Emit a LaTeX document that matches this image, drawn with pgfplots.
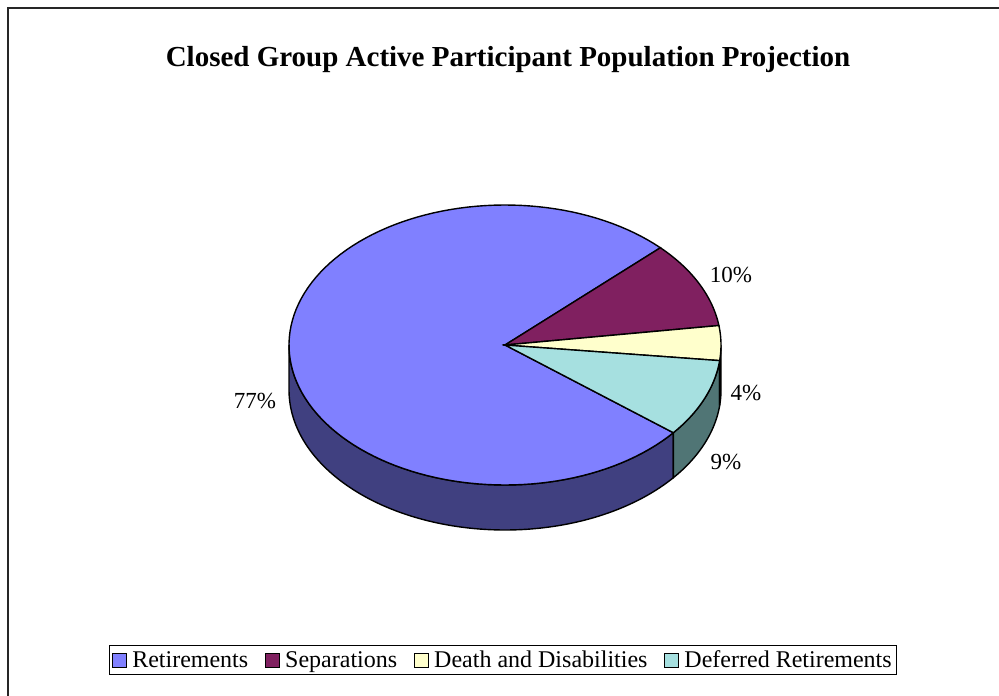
\documentclass[border=0pt]{standalone}
\usepackage{pgfplots}
\pgfplotsset{compat=1.18}
\usepackage{pgfplotstable}
\usepackage{fontspec}
\setmainfont{Liberation Serif}

\definecolor{retTop}{HTML}{8080FF}
\definecolor{retSide}{HTML}{404080}
\definecolor{sepTop}{HTML}{802060}
\definecolor{deaTop}{HTML}{FFFFCC}
\definecolor{deaSide}{HTML}{80806A}
\definecolor{defTop}{HTML}{A6E0E0}
\definecolor{defSide}{HTML}{507575}

\pgfplotstableread{
slice value
Retirements 77
Separations 10
Death 4
Deferred 9
}\piedata

% centre, radii, depth of the pie (pixel units)
\def\cx{505}\def\cy{345}\def\ra{216}\def\rb{140}\def\dep{45}

\newcommand\wall[3]{%
\addplot[forget plot, fill=#3, draw=black, line width=1.4pt, domain=0:3, samples=301, variable=\s]
 ({\cx+\ra*cos(#1+(#2-#1)*min(\s,1)-(#2-#1)*max(\s-2,0))},
  {\cy-\rb*sin(#1+(#2-#1)*min(\s,1)-(#2-#1)*max(\s-2,0))+\dep*min(max(\s-1,0),1)}) -- cycle;}

\newcommand\slice[3]{%
\addplot[fill=#3, draw=black, line width=1.4pt, domain=#1:#2, samples=120, variable=\t]
 ({\cx+\ra*cos(\t)},{\cy-\rb*sin(\t)}) -- (axis cs:\cx,\cy) -- cycle;}

\begin{document}
\begin{tikzpicture}
\pgfplotstablegetelem{0}{value}\of\piedata \edef\vA{\pgfplotsretval}
\pgfplotstablegetelem{1}{value}\of\piedata \edef\vB{\pgfplotsretval}
\pgfplotstablegetelem{2}{value}\of\piedata \edef\vC{\pgfplotsretval}
\pgfplotstablegetelem{3}{value}\of\piedata \edef\vD{\pgfplotsretval}
\pgfmathsetmacro\tA{-38.8}
\pgfmathsetmacro\tB{\tA-3.6*\vA}
\pgfmathsetmacro\tC{\tB-3.6*\vB}
\pgfmathsetmacro\tD{\tC-3.6*\vC}
\pgfmathsetmacro\tE{\tD-3.6*\vD}
\pgfmathsetmacro\wDa{\tD+360}
\pgfmathsetmacro\wEa{\tE+360}
\begin{axis}[
  scale only axis, width=999pt, height=696pt,
  xmin=0, xmax=999, ymin=0, ymax=696, y dir=reverse,
  hide axis, clip=false,
  legend columns=4,
  legend image code/.code={\draw[#1,line width=1pt] (0pt,-7pt) rectangle (14pt,7pt);},
  legend style={at={(0.5035,0.0517)}, anchor=center, draw=black, line width=1pt,
    font=\fontsize{24}{28}\selectfont, inner xsep=3pt, inner ysep=3pt,
    /tikz/every even column/.append style={column sep=15pt},
    /tikz/every odd column/.append style={column sep=3pt},
    cells={anchor=west}},
]
% side walls (front half)
\wall{-180}{\tA}{retSide}
\wall{\wEa}{\wDa}{defSide}
\wall{\wDa}{0}{deaSide}
% top faces
\slice{\tB}{\tA}{retTop}
\addlegendentry{Retirements}
\slice{\tC}{\tB}{sepTop}
\addlegendentry{Separations}
\slice{\tD}{\tC}{deaTop}
\addlegendentry{Death and Disabilities}
\slice{\tE}{\tD}{defTop}
\addlegendentry{Deferred Retirements}

\node[font=\fontsize{23}{27}\selectfont] at (axis cs:255,401) {\vA\%};
\node[font=\fontsize{23}{27}\selectfont] at (axis cs:731,275) {\vB\%};
\node[font=\fontsize{23}{27}\selectfont] at (axis cs:746,393) {\vC\%};
\node[font=\fontsize{23}{27}\selectfont] at (axis cs:726,462) {\vD\%};

\node[font=\fontsize{29}{34}\selectfont\bfseries] at (axis cs:508,60) {Closed Group Active Participant Population Projection};

\draw[line width=2pt, black!85] (axis cs:8,710) -- (axis cs:8,8) -- (axis cs:1010,8);
\end{axis}
\pgfresetboundingbox
\path (0,0) rectangle (999pt,696pt);
\end{tikzpicture}
\end{document}
